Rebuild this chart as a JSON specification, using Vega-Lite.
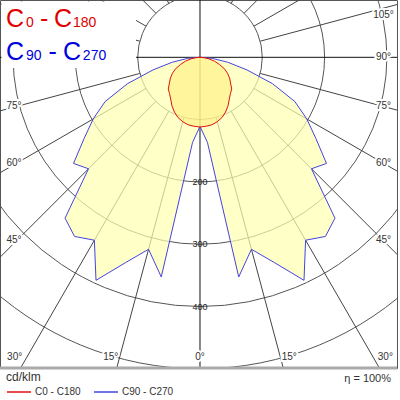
{
  "$schema": "https://vega.github.io/schema/vega-lite/v6.json",
  "width": 397,
  "height": 368,
  "autosize": {"type": "none"},
  "padding": {"left": 0, "top": 0, "right": 3, "bottom": 32},
  "config": {"view": {"stroke": "#555", "strokeWidth": 1}, "font": "Liberation Sans"},
  "datasets": {
    "curves": [
      {"c":"C90 - C270","a":-90,"v":0},{"c":"C90 - C270","a":-85,"v":20},{"c":"C90 - C270","a":-80,"v":45},{"c":"C90 - C270","a":-75,"v":78},{"c":"C90 - C270","a":-70,"v":124},{"c":"C90 - C270","a":-65,"v":168},{"c":"C90 - C270","a":-60,"v":198},{"c":"C90 - C270","a":-55,"v":227},{"c":"C90 - C270","a":-50,"v":265},{"c":"C90 - C270","a":-45,"v":253},{"c":"C90 - C270","a":-40,"v":337},{"c":"C90 - C270","a":-35,"v":351},{"c":"C90 - C270","a":-30,"v":339},{"c":"C90 - C270","a":-25,"v":395},{"c":"C90 - C270","a":-20,"v":351},{"c":"C90 - C270","a":-15,"v":319},{"c":"C90 - C270","a":-10,"v":358},{"c":"C90 - C270","a":-5,"v":137},
      {"c":"C90 - C270","a":0,"v":111},
      {"c":"C90 - C270","a":5,"v":137},{"c":"C90 - C270","a":10,"v":358},{"c":"C90 - C270","a":15,"v":319},{"c":"C90 - C270","a":20,"v":351},{"c":"C90 - C270","a":25,"v":395},{"c":"C90 - C270","a":30,"v":339},{"c":"C90 - C270","a":35,"v":351},{"c":"C90 - C270","a":40,"v":337},{"c":"C90 - C270","a":45,"v":253},{"c":"C90 - C270","a":50,"v":265},{"c":"C90 - C270","a":55,"v":227},{"c":"C90 - C270","a":60,"v":198},{"c":"C90 - C270","a":65,"v":168},{"c":"C90 - C270","a":70,"v":124},{"c":"C90 - C270","a":75,"v":78},{"c":"C90 - C270","a":80,"v":45},{"c":"C90 - C270","a":85,"v":20},{"c":"C90 - C270","a":90,"v":0},
      {"c":"C0 - C180","a":-90,"v":0},{"c":"C0 - C180","a":-85,"v":7},{"c":"C0 - C180","a":-80,"v":15},{"c":"C0 - C180","a":-75,"v":24},{"c":"C0 - C180","a":-70,"v":33},{"c":"C0 - C180","a":-65,"v":43},{"c":"C0 - C180","a":-60,"v":51},{"c":"C0 - C180","a":-55,"v":58},{"c":"C0 - C180","a":-50,"v":64},{"c":"C0 - C180","a":-45,"v":72},{"c":"C0 - C180","a":-40,"v":76},{"c":"C0 - C180","a":-35,"v":82},{"c":"C0 - C180","a":-30,"v":90},{"c":"C0 - C180","a":-25,"v":97},{"c":"C0 - C180","a":-20,"v":103},{"c":"C0 - C180","a":-15,"v":107},{"c":"C0 - C180","a":-10,"v":110},{"c":"C0 - C180","a":-5,"v":111},
      {"c":"C0 - C180","a":0,"v":112},
      {"c":"C0 - C180","a":5,"v":111},{"c":"C0 - C180","a":10,"v":110},{"c":"C0 - C180","a":15,"v":107},{"c":"C0 - C180","a":20,"v":103},{"c":"C0 - C180","a":25,"v":97},{"c":"C0 - C180","a":30,"v":90},{"c":"C0 - C180","a":35,"v":82},{"c":"C0 - C180","a":40,"v":76},{"c":"C0 - C180","a":45,"v":72},{"c":"C0 - C180","a":50,"v":64},{"c":"C0 - C180","a":55,"v":58},{"c":"C0 - C180","a":60,"v":51},{"c":"C0 - C180","a":65,"v":43},{"c":"C0 - C180","a":70,"v":33},{"c":"C0 - C180","a":75,"v":24},{"c":"C0 - C180","a":80,"v":15},{"c":"C0 - C180","a":85,"v":7},{"c":"C0 - C180","a":90,"v":0}
    ],
    "rings": [{"r":100},{"r":200},{"r":300},{"r":400},{"r":500}],
    "spokes": [{"a":0},{"a":15},{"a":30},{"a":45},{"a":60},{"a":75},{"a":90},{"a":105},{"a":120},{"a":135},{"a":150},{"a":165},{"a":180},{"a":195},{"a":210},{"a":225},{"a":240},{"a":255},{"a":270},{"a":285},{"a":300},{"a":315},{"a":330},{"a":345}],
    "ringlabels": [{"r":200,"t":"200"},{"r":300,"t":"300"},{"r":400,"t":"400"}],
    "anglelabels": [
      {"t":"105°","a":105,"side":"r"},{"t":"90°","a":90,"side":"r"},{"t":"75°","a":75,"side":"r"},{"t":"60°","a":60,"side":"r"},{"t":"45°","a":45,"side":"r"},
      {"t":"75°","a":-75,"side":"l"},{"t":"60°","a":-60,"side":"l"},{"t":"45°","a":-45,"side":"l"},
      {"t":"30°","a":-30,"side":"b"},{"t":"15°","a":-15,"side":"b"},{"t":"0°","a":0,"side":"b"},{"t":"15°","a":15,"side":"b"},{"t":"30°","a":30,"side":"b"}
    ],
    "titles": [
      {"k":1,"t":"C"},{"k":2,"t":"0"},{"k":3,"t":"-"},{"k":4,"t":"C"},{"k":5,"t":"180"},
      {"k":6,"t":"C"},{"k":7,"t":"90"},{"k":8,"t":"-"},{"k":9,"t":"C"},{"k":10,"t":"270"}
    ],
    "notes": [{"t":"η = 100%"}]
  },
  "encoding": {
    "x": {"field": "X", "type": "quantitative", "scale": {"domain": [-321, 316.2], "nice": false, "zero": false}, "axis": null},
    "y": {"field": "Y", "type": "quantitative", "scale": {"domain": [-92, 498.7], "nice": false, "zero": false, "reverse": true}, "axis": null}
  },
  "layer": [
    {
      "data": {"name": "rings"},
      "transform": [{"calculate": "0", "as": "X"}, {"calculate": "0", "as": "Y"}],
      "mark": {"type": "point", "shape": "circle", "filled": false, "stroke": "#555", "strokeWidth": 1, "opacity": 1, "clip": true},
      "encoding": {
        "size": {"field": "r", "type": "quantitative", "scale": {"type": "pow", "exponent": 2, "domain": [0, 500], "range": [0, 388129]}, "legend": null}
      }
    },
    {
      "data": {"name": "spokes"},
      "transform": [
        {"filter": "datum.a % 90 != 0"},
        {"calculate": "100*sin(datum.a*PI/180)", "as": "X"},
        {"calculate": "100*cos(datum.a*PI/180)", "as": "Y"},
        {"calculate": "900*sin(datum.a*PI/180)", "as": "X2"},
        {"calculate": "900*cos(datum.a*PI/180)", "as": "Y2"}
      ],
      "mark": {"type": "rule", "stroke": "#444", "strokeWidth": 1, "clip": true},
      "encoding": {"x2": {"field": "X2"}, "y2": {"field": "Y2"}}
    },
    {
      "data": {"name": "spokes"},
      "transform": [
        {"filter": "datum.a % 90 == 0"},
        {"calculate": "0", "as": "X"},
        {"calculate": "0", "as": "Y"},
        {"calculate": "900*sin(datum.a*PI/180)", "as": "X2"},
        {"calculate": "900*cos(datum.a*PI/180)", "as": "Y2"}
      ],
      "mark": {"type": "rule", "stroke": "#111", "strokeWidth": 1, "clip": true},
      "encoding": {"x2": {"field": "X2"}, "y2": {"field": "Y2"}}
    },
    {
      "data": {"name": "curves"},
      "transform": [
        {"filter": "datum.c == 'C90 - C270'"},
        {"calculate": "datum.v*sin(datum.a*PI/180)", "as": "X"},
        {"calculate": "datum.v*cos(datum.a*PI/180)", "as": "Y"}
      ],
      "mark": {"type": "line", "fill": "#ffffb0", "fillOpacity": 0.7, "strokeWidth": 1},
      "encoding": {
        "order": {"field": "a", "type": "quantitative"},
        "stroke": {"field": "c", "type": "nominal",
          "scale": {"domain": ["C0 - C180", "C90 - C270"], "range": ["#e01010", "#4444dd"]},
          "legend": {"orient": "none", "legendX": 6, "legendY": 372, "direction": "horizontal", "title": "cd/klm", "titleOrient": "top", "titleAnchor": "start", "titleFontSize": 12, "titleFontWeight": "normal", "titleColor": "#333", "titleFont": "Liberation Sans", "labelFont": "Liberation Sans", "labelFontSize": 10, "labelColor": "#333", "symbolType": "M-1,0H3.8", "symbolSize": 100, "symbolStrokeWidth": 1.5, "columnPadding": 10, "labelOffset": 17, "titlePadding": 2, "padding": 0}
        }
      }
    },
    {
      "data": {"name": "curves"},
      "transform": [
        {"filter": "datum.c == 'C0 - C180'"},
        {"calculate": "datum.v*sin(datum.a*PI/180)", "as": "X"},
        {"calculate": "datum.v*cos(datum.a*PI/180)", "as": "Y"}
      ],
      "mark": {"type": "line", "fill": "#ffec70", "fillOpacity": 0.5, "strokeWidth": 1},
      "encoding": {
        "order": {"field": "a", "type": "quantitative"},
        "stroke": {"field": "c", "type": "nominal"}
      }
    },
    {
      "data": {"name": "ringlabels"},
      "transform": [{"calculate": "0", "as": "X"}, {"calculate": "datum.r", "as": "Y"}],
      "mark": {"type": "text", "fontSize": 9, "color": "#222", "align": "center", "baseline": "middle"},
      "encoding": {"text": {"field": "t"}}
    },
    {
      "data": {"name": "anglelabels"},
      "transform": [
        {"calculate": "datum.side=='r' ? 294.5 : datum.side=='l' ? -298.6 : 498.7*tan(datum.a*PI/180) + (datum.a>0 ? 9.6 : datum.a<0 ? -9.6 : 0)", "as": "X"},
        {"calculate": "datum.side=='b' ? 481 : max(-67.5, 294*cos(datum.a*PI/180)/abs(sin(datum.a*PI/180)))", "as": "Y"}
      ],
      "encoding": {"text": {"field": "t"}},
      "layer": [
        {"mark": {"type": "text", "fontSize": 10, "color": "white", "stroke": "white", "strokeWidth": 4, "align": "center", "baseline": "middle"}},
        {"mark": {"type": "text", "fontSize": 10, "color": "#333", "align": "center", "baseline": "middle"}}
      ]
    },
    {
      "data": {"name": "notes"},
      "transform": [{"calculate": "-318.6", "as": "X"}, {"calculate": "-102.7", "as": "X2"}, {"calculate": "-89.6", "as": "Y"}, {"calculate": "17", "as": "Y2"}],
      "mark": {"type": "rect", "fill": "white"},
      "encoding": {"x2": {"field": "X2"}, "y2": {"field": "Y2"}}
    },
    {
      "data": {"name": "notes"},
      "transform": [{"calculate": "-321", "as": "X"}, {"calculate": "316.2", "as": "X2"}, {"calculate": "498.7", "as": "Y"}],
      "mark": {"type": "rule", "stroke": "#aaa", "strokeWidth": 3},
      "encoding": {"x2": {"field": "X2"}}
    },
    {
      "data": {"name": "notes"},
      "transform": [{"calculate": "306.6", "as": "X"}, {"calculate": "516.4", "as": "Y"}],
      "mark": {"type": "text", "fontSize": 11, "color": "#333", "align": "right", "baseline": "middle"},
      "encoding": {"text": {"field": "t"}}
    },
    {"data": {"name": "titles"}, "transform": [{"filter": "datum.k==1"}, {"calculate": "-311.4", "as": "X"}, {"calculate": "-49.1", "as": "Y"}], "mark": {"type": "text", "fontSize": 25, "color": "#e00000", "align": "left", "baseline": "alphabetic"}, "encoding": {"text": {"field": "t"}}},
    {"data": {"name": "titles"}, "transform": [{"filter": "datum.k==2"}, {"calculate": "-279.3", "as": "X"}, {"calculate": "-49.1", "as": "Y"}], "mark": {"type": "text", "fontSize": 14, "color": "#e00000", "align": "left", "baseline": "alphabetic"}, "encoding": {"text": {"field": "t"}}},
    {"data": {"name": "titles"}, "transform": [{"filter": "datum.k==3"}, {"calculate": "-256.8", "as": "X"}, {"calculate": "-49.1", "as": "Y"}], "mark": {"type": "text", "fontSize": 25, "color": "#e00000", "align": "left", "baseline": "alphabetic"}, "encoding": {"text": {"field": "t"}}},
    {"data": {"name": "titles"}, "transform": [{"filter": "datum.k==4"}, {"calculate": "-234.3", "as": "X"}, {"calculate": "-49.1", "as": "Y"}], "mark": {"type": "text", "fontSize": 25, "color": "#e00000", "align": "left", "baseline": "alphabetic"}, "encoding": {"text": {"field": "t"}}},
    {"data": {"name": "titles"}, "transform": [{"filter": "datum.k==5"}, {"calculate": "-203.9", "as": "X"}, {"calculate": "-49.1", "as": "Y"}], "mark": {"type": "text", "fontSize": 14, "color": "#e00000", "align": "left", "baseline": "alphabetic"}, "encoding": {"text": {"field": "t"}}},
    {"data": {"name": "titles"}, "transform": [{"filter": "datum.k==6"}, {"calculate": "-311.4", "as": "X"}, {"calculate": "4.3", "as": "Y"}], "mark": {"type": "text", "fontSize": 25, "color": "#0000dd", "align": "left", "baseline": "alphabetic"}, "encoding": {"text": {"field": "t"}}},
    {"data": {"name": "titles"}, "transform": [{"filter": "datum.k==7"}, {"calculate": "-279.3", "as": "X"}, {"calculate": "4.3", "as": "Y"}], "mark": {"type": "text", "fontSize": 14, "color": "#0000dd", "align": "left", "baseline": "alphabetic"}, "encoding": {"text": {"field": "t"}}},
    {"data": {"name": "titles"}, "transform": [{"filter": "datum.k==8"}, {"calculate": "-243.2", "as": "X"}, {"calculate": "4.3", "as": "Y"}], "mark": {"type": "text", "fontSize": 25, "color": "#0000dd", "align": "left", "baseline": "alphabetic"}, "encoding": {"text": {"field": "t"}}},
    {"data": {"name": "titles"}, "transform": [{"filter": "datum.k==9"}, {"calculate": "-220", "as": "X"}, {"calculate": "4.3", "as": "Y"}], "mark": {"type": "text", "fontSize": 25, "color": "#0000dd", "align": "left", "baseline": "alphabetic"}, "encoding": {"text": {"field": "t"}}},
    {"data": {"name": "titles"}, "transform": [{"filter": "datum.k==10"}, {"calculate": "-188", "as": "X"}, {"calculate": "4.3", "as": "Y"}], "mark": {"type": "text", "fontSize": 14, "color": "#0000dd", "align": "left", "baseline": "alphabetic"}, "encoding": {"text": {"field": "t"}}}
  ]
}
